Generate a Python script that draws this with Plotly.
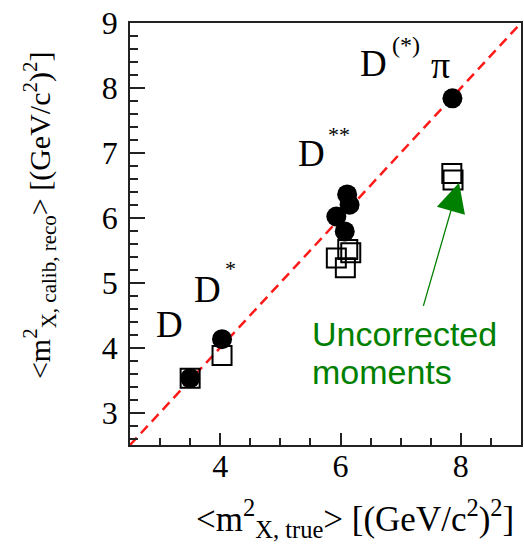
import plotly.graph_objects as go

# ---- data ----
x_corr = [3.50, 4.03, 5.93, 6.07, 6.11, 6.15, 7.86]
y_corr = [3.53, 4.13, 6.02, 5.79, 6.36, 6.20, 7.84]
x_unc = [3.50, 4.03, 5.93, 6.08, 6.12, 6.17, 7.85, 7.87]
y_unc = [3.53, 3.88, 5.38, 5.23, 5.51, 5.46, 6.68, 6.58]
diag = [2.5, 9.0]
x_ticks = [4, 6, 8]
y_ticks = [3, 4, 5, 6, 7, 8, 9]

SERIF = "Liberation Serif"
SANS = "Liberation Sans"
GREEN = "#008000"

fig = go.Figure()
fig.add_trace(go.Scatter(x=diag, y=diag, mode="lines",
                         line=dict(color="#ff1a1a", width=2.5, dash="10px,6px"),
                         hoverinfo="skip", showlegend=False))
fig.add_trace(go.Scatter(x=x_unc, y=y_unc, mode="markers",
                         marker=dict(symbol="square-open", size=19, color="black",
                                     line=dict(color="black", width=2)),
                         showlegend=False))
fig.add_trace(go.Scatter(x=x_corr, y=y_corr, mode="markers",
                         marker=dict(symbol="circle", size=20, color="black"),
                         showlegend=False))

ann = []
def lab(x, y, text, size, family=SERIF, color="black", xanchor="center"):
    ann.append(dict(x=x, y=y, xref="x", yref="y", text=text, showarrow=False,
                    font=dict(family=family, size=size, color=color),
                    xanchor=xanchor, yanchor="middle"))

lab(3.16, 4.35, "D", 37)
lab(3.79, 4.90, "D", 37)
lab(4.165, 5.22, "*", 22)
lab(5.51, 6.99, "D", 37)
lab(5.97, 7.29, "**", 22)
lab(6.55, 8.37, "D", 37)
lab(7.08, 8.66, "(*)", 24)
lab(7.66, 8.35, "π", 38)
lab(5.50, 4.205, "Uncorrected", 34, family=SANS, color=GREEN, xanchor="left")
lab(5.50, 3.62, "moments", 34, family=SANS, color=GREEN, xanchor="left")

ann.append(dict(x=7.97, y=6.54, xref="x", yref="y", ax=7.37, ay=4.62,
                axref="x", ayref="y", text="", showarrow=True,
                arrowhead=2, arrowsize=4.5, arrowwidth=1.3, arrowcolor=GREEN))

ann.append(dict(x=0.987, y=-0.175, xref="paper", yref="paper",
                text="&lt;m<sup>2</sup><sub>X, true</sub>&gt; [(GeV/c<sup>2</sup>)<sup>2</sup>]",
                showarrow=False, xanchor="right", yanchor="middle",
                font=dict(family=SERIF, size=35, color="black")))
ann.append(dict(x=-0.2325, y=0.545, xref="paper", yref="paper",
                text="&lt;m<sup>2</sup><sub>X, calib, reco</sub>&gt; [(GeV/c<sup>2</sup>)<sup>2</sup>]",
                showarrow=False, xanchor="center", yanchor="middle", textangle=-90,
                font=dict(family=SERIF, size=30, color="black")))

axis_common = dict(showline=True, linecolor="#222", linewidth=1.5, mirror=True,
                   showgrid=False, zeroline=False, ticks="inside", tickcolor="#222",
                   tickwidth=1.5, tickfont=dict(family=SERIF, size=32, color="black"))

fig.update_layout(
    width=524, height=551,
    margin=dict(l=129.5, r=1, t=23, b=106),
    paper_bgcolor="white", plot_bgcolor="white",
    annotations=ann,
    xaxis=dict(range=[2.5, 9], tickvals=x_ticks, ticktext=[str(v) for v in x_ticks],
               ticklen=12, ticklabelstandoff=-8,
               minor=dict(dtick=0.5, tick0=0, ticks="inside", ticklen=7,
                          tickcolor="#222", tickwidth=1.5),
               **axis_common),
    yaxis=dict(range=[2.5, 9], tickvals=y_ticks, ticktext=[str(v) for v in y_ticks],
               ticklen=15, ticklabelstandoff=4,
               minor=dict(dtick=0.2, tick0=0, ticks="inside", ticklen=8,
                          tickcolor="#222", tickwidth=1.5),
               **axis_common),
)

fig.write_html("out.html", config={"displayModeBar": False},
               post_script="document.body.style.margin='0';document.body.style.padding='0';")
